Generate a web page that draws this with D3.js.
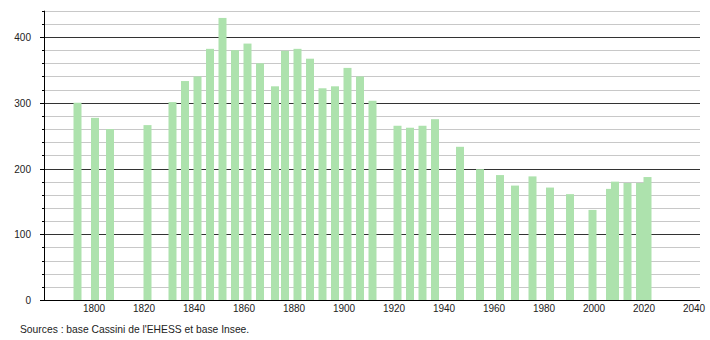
<!DOCTYPE html>
<html>
<head>
<meta charset="utf-8">
<script src="https://cdn.jsdelivr.net/npm/d3@7"></script>
<style>
  body { margin: 0; background: #fff; }
  svg { font-family: "Liberation Sans", Arial, sans-serif; }
</style>
</head>
<body>
<svg id="chart" width="710" height="340"></svg>
<script>
// population by census year
const years = [1793, 1800, 1806, 1821, 1831, 1836, 1841, 1846, 1851, 1856, 1861, 1866, 1872, 1876, 1881, 1886, 1891, 1896, 1901, 1906, 1911, 1921, 1926, 1931, 1936, 1946, 1954, 1962, 1968, 1975, 1982, 1990, 1999, 2006, 2008, 2013, 2018, 2021];
const population = [300, 277, 260, 266, 301, 333, 340, 382, 429, 380, 390, 360, 325, 379, 382, 367, 322, 325, 353, 340, 303, 265, 262, 265, 275, 233, 199, 190, 174, 188, 171, 161, 137, 169, 180, 178, 178, 187];
const xTicks = [1800, 1820, 1840, 1860, 1880, 1900, 1920, 1940, 1960, 1980, 2000, 2020, 2040];
const yTicks = [0, 100, 200, 300, 400];
const yMinor = d3.range(0, 441, 20);
const sourceText = "Sources : base Cassini de l'EHESS et base Insee.";

const svg = d3.select("#chart");

const x = d3.scaleLinear().domain([1780, 2042.4]).range([44, 700]);
const y = d3.scaleLinear().domain([0, 440]).range([300, 10.7]);

// gridlines
svg.append("g")
  .selectAll("line")
  .data(yMinor.filter((d) => d % 100 !== 0))
  .join("line")
  .attr("x1", 44).attr("x2", 700)
  .attr("y1", (d) => Math.round(y(d)) + 0.5)
  .attr("y2", (d) => Math.round(y(d)) + 0.5)
  .attr("stroke", "#c8c8c8");

svg.append("g")
  .selectAll("line")
  .data(yTicks.filter((d) => d > 0))
  .join("line")
  .attr("x1", 44).attr("x2", 700)
  .attr("y1", (d) => Math.round(y(d)) + 0.5)
  .attr("y2", (d) => Math.round(y(d)) + 0.5)
  .attr("stroke", "#333");

// bars
svg.append("g")
  .selectAll("rect")
  .data(years)
  .join("rect")
  .attr("x", (d) => x(d) - 3)
  .attr("width", 8)
  .attr("y", (d, i) => y(population[i]))
  .attr("height", (d, i) => y(0) - y(population[i]))
  .attr("fill", "#ade2ad");

// y axis
svg.append("line")
  .attr("x1", 44.5).attr("x2", 44.5)
  .attr("y1", y(440)).attr("y2", y(0))
  .attr("stroke", "#000");

svg.append("g")
  .selectAll("line")
  .data(yMinor)
  .join("line")
  .attr("x1", (d) => (d % 100 === 0 ? 40 : 42))
  .attr("x2", 44)
  .attr("y1", (d) => Math.round(y(d)) + 0.5)
  .attr("y2", (d) => Math.round(y(d)) + 0.5)
  .attr("stroke", "#000");

svg.append("g")
  .selectAll("text")
  .data(yTicks)
  .join("text")
  .attr("x", 31)
  .attr("y", (d) => y(d) + 4)
  .attr("text-anchor", "end")
  .attr("font-size", 10)
  .attr("fill", "#222")
  .text((d) => d);

// x axis
svg.append("line")
  .attr("x1", 40).attr("x2", 700)
  .attr("y1", Math.round(y(0)) + 0.5).attr("y2", Math.round(y(0)) + 0.5)
  .attr("stroke", "#000");

svg.append("g")
  .selectAll("text")
  .data(xTicks)
  .join("text")
  .attr("x", (d) => x(d))
  .attr("y", 312)
  .attr("text-anchor", "middle")
  .attr("font-size", 10)
  .attr("fill", "#222")
  .text((d) => d);

svg.append("text")
  .attr("x", 20)
  .attr("y", 333)
  .attr("font-size", 10.3)
  .attr("fill", "#222")
  .text(sourceText);
</script>
</body>
</html>
